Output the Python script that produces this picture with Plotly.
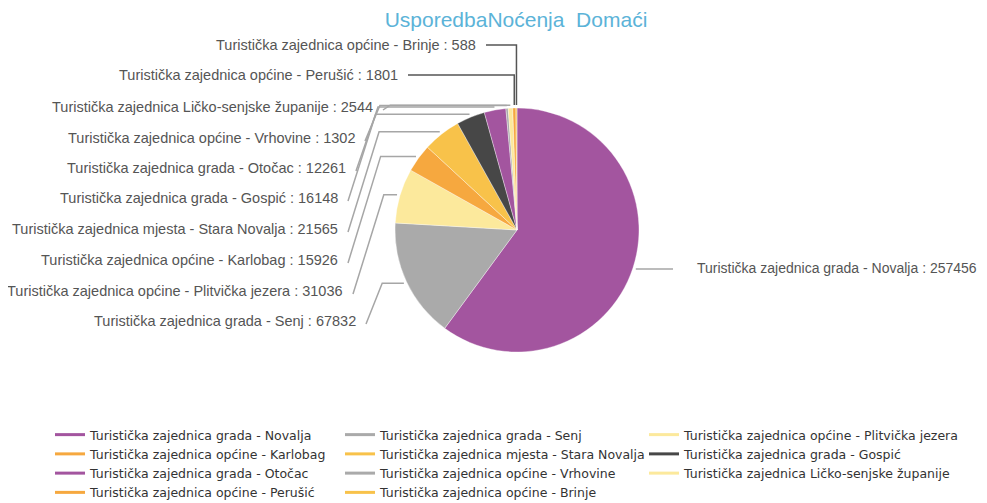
import math
import plotly.graph_objects as go

# ---------------- data ----------------
labels = [
    "Turistička zajednica grada - Novalja",
    "Turistička zajednica grada - Senj",
    "Turistička zajednica općine - Plitvička jezera",
    "Turistička zajednica općine - Karlobag",
    "Turistička zajednica mjesta - Stara Novalja",
    "Turistička zajednica grada - Gospić",
    "Turistička zajednica grada - Otočac",
    "Turistička zajednica općine - Vrhovine",
    "Turistička zajednica Ličko-senjske županije",
    "Turistička zajednica općine - Perušić",
    "Turistička zajednica općine - Brinje",
]
values = [257456, 67832, 31036, 15926, 21565, 16148, 12261, 1302, 2544, 1801, 588]
colors = ["#a3559f", "#aaaaaa", "#fce99c", "#f6a83f", "#f8c24a", "#474747",
          "#a3559f", "#aaaaaa", "#fce99c", "#f6a83f", "#f8c24a"]
title_text = "UsporedbaNoćenja\u00a0 Domaći"

# ---------------- layout geometry (window pixels) ----------------
WIN_W, WIN_H = 987, 503
OFF = 8                                  # default page body margin
W, H = WIN_W - OFF, WIN_H - OFF          # figure fits the window exactly
cx, cy, r = 517, 230, 122
FONT = "Liberation Sans, Arial, sans-serif"
LEG_FONT = "DejaVu Sans, sans-serif"

def px(xw):   # window x -> paper fraction
    return (xw - OFF) / W

def py(yw):   # window y -> paper fraction (from bottom)
    return 1 - (yw - OFF) / H

# visual right ends / centres of the left-hand labels (slices 1..10)
left_label_x = [358, 345, 340, 340, 340, 348, 357, 375, 400, 478]
left_label_y = [321, 291, 260, 229, 198, 168, 138, 107, 75, 45]
right_label_xy = (695, 268)
# legend column left edges (three side-by-side vertical legends)
legend_cols_x = [50, 340, 644]
legend_top = 420

fig = go.Figure()

fig.add_trace(go.Pie(
    labels=labels, values=values, sort=False, direction="clockwise", rotation=0,
    marker=dict(colors=colors, line=dict(color="rgba(255,255,255,0.6)", width=0.6)),
    textinfo="none", showlegend=False, hoverinfo="label+value",
    domain=dict(x=[px(cx - r), px(cx + r)], y=[py(cy + r), py(cy - r)]),
))

# legend entries drawn as lines, distributed row-wise over three columns
legend_names = ["legend", "legend2", "legend3"]
for k, (lab, col) in enumerate(zip(labels, colors)):
    fig.add_trace(go.Scatter(x=[None], y=[None], mode="lines", name=lab,
                             legend=legend_names[k % 3],
                             line=dict(color=col, width=3), hoverinfo="skip"))

# mid angles of slices (clockwise from 12 o'clock)
total = sum(values)
mids = []
acc = 0
for v in values:
    mids.append((acc + v / 2) / total * 2 * math.pi)
    acc += v

def edge(theta, rr):
    return cx + rr * math.sin(theta), cy - rr * math.cos(theta)

shapes = []
annotations = []
line_style = dict(color="#a6a6a6", width=1.5)
label_font = dict(family=FONT, size=14.5, color="#555555")

# right label (Novalja)
ex, ey = edge(mids[0], r + 3)
shapes.append(dict(type="path", xref="x", yref="y",
                   path=f"M{ex},{ey} L{right_label_xy[0] - 22},{ey}", line=line_style))
annotations.append(dict(x=right_label_xy[0], y=right_label_xy[1], xref="x", yref="y",
                        text=f"{labels[0]} : {values[0]}", showarrow=False,
                        xanchor="left", yanchor="middle",
                        font=dict(family=FONT, size=14, color="#555555")))

for i in range(1, len(values)):
    lx, ly = left_label_x[i - 1], left_label_y[i - 1]
    ex, ey = edge(mids[i], r + 3)
    sx, sy = lx + 8, ly + 3
    if ly < cy - r - 20:
        path = f"M{sx},{ly} L{ex},{ly} L{ex},{ey}"
        ls = dict(color="#555555", width=1.5)
    else:
        dy = abs(sy - ey)
        kx = min(sx + 0.25 * dy + 6, ex)
        path = f"M{sx},{sy} L{kx},{ey} L{ex},{ey}"
        ls = line_style
    shapes.append(dict(type="path", xref="x", yref="y", path=path, line=ls))
    annotations.append(dict(x=lx, y=ly, xref="x", yref="y",
                            text=f"{labels[i]} : {values[i]}", showarrow=False,
                            xanchor="right", yanchor="middle", font=label_font))

legend_common = dict(orientation="v", xanchor="left", y=py(legend_top), yanchor="top",
                     itemwidth=30, font=dict(family=LEG_FONT, size=12.5, color="#333333"),
                     bgcolor="rgba(0,0,0,0)", tracegroupgap=0)

fig.update_layout(
    width=W, height=H,
    margin=dict(l=0, r=0, t=0, b=0, autoexpand=False),
    paper_bgcolor="white", plot_bgcolor="white",
    title=dict(text=title_text, x=px(516), xanchor="center",
               y=py(20), yanchor="middle", yref="container",
               font=dict(family=FONT, size=21, color="#5bb3d8")),
    xaxis=dict(range=[OFF, WIN_W], visible=False, domain=[0, 1], fixedrange=True),
    yaxis=dict(range=[WIN_H, OFF], visible=False, domain=[0, 1], fixedrange=True),
    shapes=shapes,
    annotations=annotations,
    showlegend=True,
    legend=dict(x=px(legend_cols_x[0]), **legend_common),
    legend2=dict(x=px(legend_cols_x[1]), **legend_common),
    legend3=dict(x=px(legend_cols_x[2]), **legend_common),
)

fig.write_html("out.html")
